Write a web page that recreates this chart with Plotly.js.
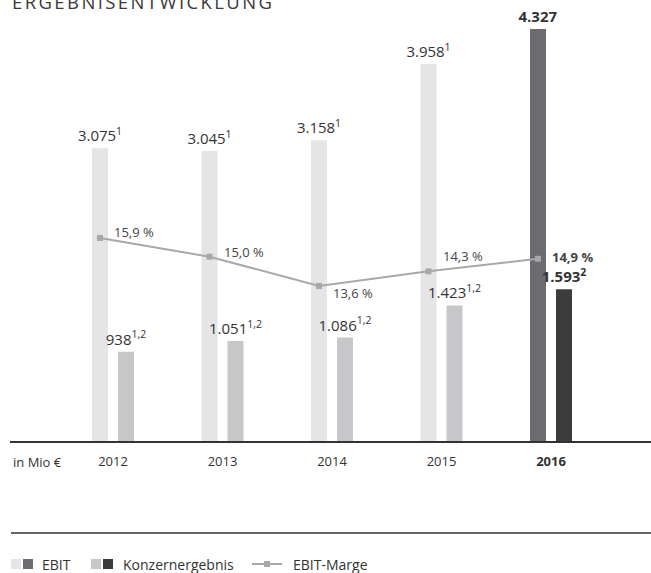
<!DOCTYPE html>
<html><head><meta charset="utf-8">
<script src="https://cdn.plot.ly/plotly-3.0.1.min.js"></script>
<style>
html,body{margin:0;padding:0;background:#fff;}
#chart{width:651px;height:573px;}
.gtitle{letter-spacing:2.4px;}
</style></head><body><div id="chart"></div>
<script>
// ---- data ----
const years = ['2012', '2013', '2014', '2015', '2016'];
const tickLabels = ['2012', '2013', '2014', '2015', '<b>2016</b>'];
const ebit = [3075, 3045, 3158, 3958, 4327];
const ebitNotes = ['1', '1', '1', '1', ''];
const konzern = [938, 1051, 1086, 1423, 1593];
const konzernNotes = ['1,2', '1,2', '1,2', '1,2', '2'];
const marge = [15.9, 15.0, 13.6, 14.3, 14.9];

// ---- helpers ----
const last = years.length - 1;
function fmt(n) { return String(n).replace(/\B(?=(\d{3})+(?!\d))/g, '.'); }
function pct(v) { return v.toFixed(1).replace('.', ',') + ' %'; }
function label(v, note, bold) {
  let s = fmt(v) + (note ? '<sup>' + note + '</sup>' : '');
  return bold ? '<b>' + s + '</b>' : s;
}
// plot area: x 10..651 px, y 0..441 px
const PL = 10, PW = 641, PH = 441;
const px = p => (p - PL) / PW;
const py = p => (PH - p) / PH;

const ebitColors = years.map((y, i) => i === last ? '#6b6b70' : '#e5e5e7');
const konzColors = years.map((y, i) => i === last ? '#3c3c3c' : '#c7c7c9');

const traces = [
  {
    type: 'bar', name: 'EBIT', x: years, y: ebit,
    marker: {color: ebitColors},
    text: ebit.map((v, i) => label(v, ebitNotes[i], i === last)),
    textposition: 'outside', constraintext: 'none', cliponaxis: false,
    textfont: {family: 'Open Sans', size: 15, color: '#333'},
    hoverinfo: 'skip'
  },
  {
    type: 'bar', name: 'Konzernergebnis', x: years, y: konzern,
    marker: {color: konzColors},
    text: konzern.map((v, i) => label(v, konzernNotes[i], i === last)),
    textposition: 'outside', constraintext: 'none', cliponaxis: false,
    textfont: {family: 'Open Sans', size: 15, color: '#333'},
    hoverinfo: 'skip'
  },
  {
    type: 'scatter', mode: 'lines+markers', name: 'EBIT-Marge',
    x: years, y: marge, xaxis: 'x2', yaxis: 'y2',
    line: {color: '#a8a8a8', width: 2},
    marker: {symbol: 'square', size: 6, color: '#a8a8a8'},
    cliponaxis: false, hoverinfo: 'skip'
  }
];

const yShifts = [6, 5, -7, 15, 2];
const annotations = marge.map((v, i) => ({
  xref: 'x2', yref: 'y2', x: i, y: v,
  text: i === last ? '<b>' + pct(v) + '</b>' : pct(v),
  showarrow: false, xanchor: 'left', yanchor: 'middle',
  xshift: 12, yshift: yShifts[i],
  font: {family: 'Open Sans', size: 13, color: '#444'}
}));
annotations.push({
  xref: 'paper', yref: 'paper', x: px(11), y: py(462),
  text: 'in Mio €', showarrow: false, xanchor: 'left', yanchor: 'middle',
  font: {family: 'Open Sans', size: 13, color: '#333'}
});
// legend texts
[['EBIT', 40], ['Konzernergebnis', 121], ['EBIT-Marge', 291]].forEach(([t, x]) => {
  annotations.push({
    xref: 'paper', yref: 'paper', x: px(x), y: py(564),
    text: t, showarrow: false, xanchor: 'left', yanchor: 'middle',
    font: {family: 'Open Sans', size: 14, color: '#333'}
  });
});

function sq(x0, color) {
  return {type: 'rect', xref: 'paper', yref: 'paper',
    x0: px(x0), x1: px(x0 + 10), y0: py(569), y1: py(559),
    fillcolor: color, line: {width: 0}};
}
const shapes = [
  {type: 'line', xref: 'paper', yref: 'paper', x0: px(11), x1: px(651),
   y0: py(533), y1: py(533), line: {color: '#333', width: 1.5}},
  sq(11, '#e5e5e7'), sq(23, '#6b6b70'),
  sq(91, '#c7c7c9'), sq(103, '#3c3c3c'),
  {type: 'line', xref: 'paper', yref: 'paper', x0: px(252), x1: px(282),
   y0: py(564), y1: py(564), line: {color: '#a8a8a8', width: 2}},
  {type: 'rect', xref: 'paper', yref: 'paper', x0: px(264), x1: px(270),
   y0: py(567), y1: py(561), fillcolor: '#a8a8a8', line: {width: 0}}
];

const groupPx = 109.5, offPx = 13;
const xr = [(PL - 113) / groupPx, (PL + PW - 113) / groupPx];
const sh = offPx / groupPx;

const layout = {
  width: 651, height: 573,
  margin: {l: 10, r: 0, t: 0, b: 132, pad: 0},
  paper_bgcolor: '#fff', plot_bgcolor: '#fff',
  font: {family: 'Open Sans', color: '#333'},
  title: {text: 'ERGEBNISENTWICKLUNG', x: 12 / 651, xanchor: 'left', xref: 'container',
          y: 1 - 2.5 / 573, yanchor: 'middle', yref: 'container',
          font: {family: 'Open Sans', size: 18.5, color: '#3a3a3a'}},
  showlegend: false,
  barmode: 'group', bargap: 0.5251, bargroupgap: 0.3846,
  xaxis: {type: 'category', range: xr, showline: true, linecolor: '#333', linewidth: 1.5,
          ticks: '', tickvals: years, ticktext: tickLabels, ticklabelstandoff: 8,
          tickfont: {family: 'Open Sans', size: 13, color: '#333'},
          showgrid: false, zeroline: false, fixedrange: true},
  yaxis: {range: [0, 4631], visible: false, fixedrange: true},
  xaxis2: {type: 'category', overlaying: 'x', range: [xr[0] + sh, xr[1] + sh],
           visible: false, fixedrange: true},
  yaxis2: {overlaying: 'y', range: [6.17, 27.30], visible: false, fixedrange: true},
  annotations: annotations,
  shapes: shapes
};

Plotly.newPlot('chart', traces, layout, {displayModeBar: false, staticPlot: true});
</script></body></html>
